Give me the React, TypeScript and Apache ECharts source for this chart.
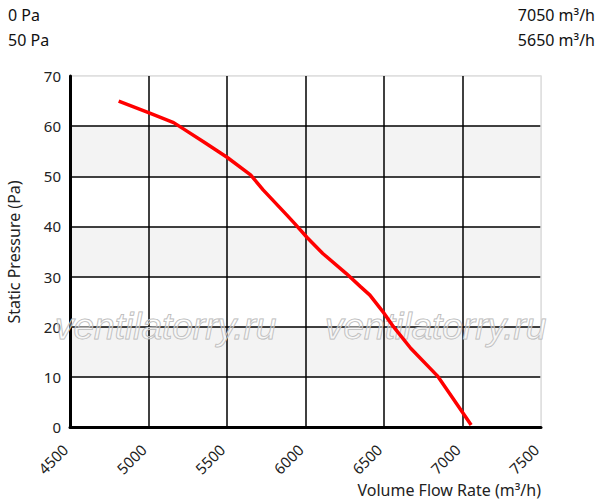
import React, { useEffect, useRef } from "react";
import * as echarts from "echarts";

const flowRate = [4810, 5000, 5160, 5220, 5350, 5500, 5650, 5730, 5880, 5930, 6010, 6110, 6260, 6350, 6410, 6500, 6560, 6670, 6840, 6920, 7005, 7055];
const pressure = [65, 62.7, 60.7, 59.5, 56.9, 53.8, 50.3, 47.3, 42.3, 40.6, 37.8, 34.6, 30.6, 28, 26.3, 22.7, 20, 15.7, 10.2, 6.6, 2.7, 0.4];

const leftNotes = ["0 Pa", "50 Pa"];
const rightNotes = ["7050 m³/h", "5650 m³/h"];
const xName = "Volume Flow Rate (m³/h)";
const yName = "Static Pressure (Pa)";
const watermark = "ventilatorry.ru";

export default function App() {
  const ref = useRef<HTMLDivElement>(null);
  useEffect(() => {
    document.body.style.margin = "0";
    const chart = echarts.init(ref.current!, null, { renderer: "svg" });
    const black = "#000";
    const light = "#dedede";
    const font = "Noto Sans";
    const noteStyle = (text: string, right: boolean) => ({
      text,
      fontFamily: font,
      fontSize: 16,
      fill: "#111",
      align: right ? "right" : "left",
      verticalAlign: "middle",
    });
    const wmStyle = {
      text: watermark,
      fontFamily: "Liberation Sans",
      fontStyle: "italic",
      fontSize: 37,
      fill: "rgba(255,255,255,0.35)",
      stroke: "#b5b5b5",
      lineWidth: 1,
      align: "left",
      verticalAlign: "middle",
    };
    chart.setOption({
      animation: false,
      grid: {
        left: 70,
        right: 56,
        top: 76,
        bottom: 74,
        show: true,
        borderColor: light,
        borderWidth: 1.5,
        backgroundColor: "#fff",
      },
      xAxis: {
        type: "value",
        min: 4500,
        max: 7500,
        interval: 500,
        axisLine: { show: true, onZero: false, lineStyle: { color: black, width: 3 } },
        axisTick: { show: false },
        axisLabel: {
          rotate: 45,
          fontFamily: font,
          fontSize: 15,
          color: "#222",
          margin: 15,
          padding: [0, 7, 0, 0],
          formatter: (v: number) => String(v),
        },
        splitLine: {
          show: true,
          lineStyle: { color: [black, black, black, black, black, black, light], width: 1.5 },
        },
      },
      yAxis: {
        type: "value",
        min: 0,
        max: 70,
        interval: 10,
        axisLine: { show: true, lineStyle: { color: black, width: 3 } },
        axisTick: { show: false },
        axisLabel: {
          fontFamily: font,
          fontSize: 15,
          color: "#222",
          margin: 9,
        },
        splitLine: {
          show: true,
          lineStyle: { color: [black, black, black, black, black, black, black, light], width: 1.5 },
        },
        splitArea: { show: true, areaStyle: { color: ["#ffffff", "#f3f3f3"] } },
      },
      graphic: [
        { type: "text", x: 8, y: 15, style: noteStyle(leftNotes[0], false) },
        { type: "text", x: 8, y: 40, style: noteStyle(leftNotes[1], false) },
        { type: "text", x: 595, y: 15, style: noteStyle(rightNotes[0], true) },
        { type: "text", x: 595, y: 40, style: noteStyle(rightNotes[1], true) },
        {
          type: "text",
          x: 541,
          y: 490,
          style: {
            text: xName,
            fontFamily: font,
            fontSize: 16,
            fill: "#222",
            align: "right",
            verticalAlign: "middle",
          },
        },
        {
          type: "text",
          x: 14,
          y: 252,
          rotation: Math.PI / 2,
          style: {
            text: yName,
            fontFamily: font,
            fontSize: 16,
            fill: "#222",
            align: "center",
            verticalAlign: "middle",
          },
        },
        { type: "text", x: 55, y: 326, z: 1, style: wmStyle },
        { type: "text", x: 325, y: 326, z: 1, style: wmStyle },
      ],
      series: [
        {
          type: "line",
          data: flowRate.map((f, i) => [f, pressure[i]]),
          symbol: "none",
          smooth: false,
          z: 5,
          lineStyle: { color: "#ff0000", width: 3.5 },
        },
      ],
    });
    return () => chart.dispose();
  }, []);
  return <div ref={ref} style={{ width: 597, height: 501 }} />;
}
